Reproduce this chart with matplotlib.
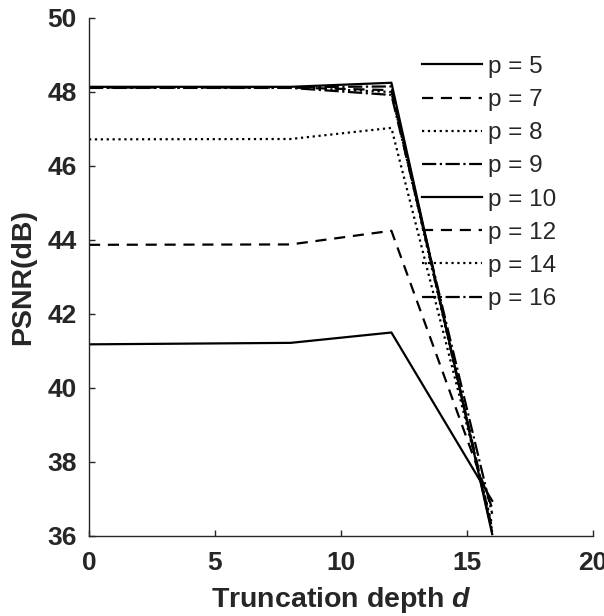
import matplotlib
matplotlib.use("Agg")
import matplotlib.pyplot as plt

plt.rcParams['font.family'] = ['Liberation Sans', 'DejaVu Sans']
plt.rcParams['mathtext.fontset'] = 'custom'
plt.rcParams['mathtext.it'] = 'Liberation Sans:bold:italic'
plt.rcParams['mathtext.rm'] = 'Liberation Sans:bold'

# Data
depth = [0, 8, 12, 16]
labels = ['p = 5', 'p = 7', 'p = 8', 'p = 9', 'p = 10', 'p = 12', 'p = 14', 'p = 16']
p5 = [41.18, 41.22, 41.50, 36.95]
p7 = [43.87, 43.88, 44.25, 36.75]
p8 = [46.72, 46.73, 47.03, 36.30]
p9 = [48.13, 48.13, 48.15, 36.10]
p10 = [48.14, 48.14, 48.25, 36.05]
p12 = [48.12, 48.12, 48.05, 36.20]
p14 = [48.12, 48.12, 48.00, 36.15]
p16 = [48.11, 48.11, 47.92, 36.60]
series = [p5, p7, p8, p9, p10, p12, p14, p16]

styles = ['-', (0, (5, 3.5)), ':', '-.', '-', (0, (5, 3.5)), ':', '-.']

fig = plt.figure(figsize=(6.04, 6.16), dpi=100)
ax = fig.add_axes([89/604, 1-536/616, (593-89)/604, (536-18)/616])

for vals, ls, lab in zip(series, styles, labels):
    ax.plot(depth, vals, color='black', linestyle=ls, lw=1.6, label=lab)

ax.set_xlim(0, 20)
ax.set_ylim(36, 50)
ax.set_xticks([0, 5, 10, 15, 20])
ax.set_yticks([36, 38, 40, 42, 44, 46, 48, 50])
for s in ['top', 'right']:
    ax.spines[s].set_visible(False)
for s in ['left', 'bottom']:
    ax.spines[s].set_color('#262626')
    ax.spines[s].set_linewidth(1.0)
ax.tick_params(direction='in', length=4, width=1.0, color='#262626',
               labelsize=19)
ax.tick_params(axis='x', pad=11)
ax.tick_params(axis='y', pad=9)
for t in ax.get_xticklabels() + ax.get_yticklabels():
    t.set_fontweight('bold')
    t.set_color('#262626')

ax.set_xlabel(r'Truncation depth $\mathit{d}$', fontsize=20.5, fontweight='bold',
              color='#262626', labelpad=7)
ax.set_ylabel('PSNR(dB)', fontsize=20.5, fontweight='bold', color='#262626',
              labelpad=8)

leg = ax.legend(loc='upper left', bbox_to_anchor=(0.661, 0.927), frameon=False,
                fontsize=17.5, handlelength=2.47, handletextpad=0.25,
                labelspacing=0.46, borderpad=0, borderaxespad=0)
for t in leg.get_texts():
    t.set_color('#262626')

fig.savefig('out.png', dpi=100)
